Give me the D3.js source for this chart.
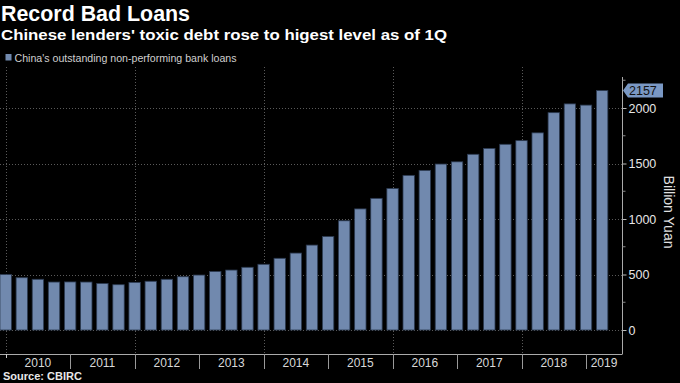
<!DOCTYPE html>
<html>
<head>
<meta charset="utf-8">
<script src="https://cdn.jsdelivr.net/npm/d3@7"></script>
<style>
html,body{margin:0;padding:0;background:#000;}
svg{display:block;}
</style>
</head>
<body>
<svg id="chart" width="680" height="383"></svg>
<script>
// ---- data ----
const quarterEnds = [
  2010.0,
  2010.25, 2010.5, 2010.75, 2011.0,
  2011.25, 2011.5, 2011.75, 2012.0,
  2012.25, 2012.5, 2012.75, 2013.0,
  2013.25, 2013.5, 2013.75, 2014.0,
  2014.25, 2014.5, 2014.75, 2015.0,
  2015.25, 2015.5, 2015.75, 2016.0,
  2016.25, 2016.5, 2016.75, 2017.0,
  2017.25, 2017.5, 2017.75, 2018.0,
  2018.25, 2018.5, 2018.75, 2019.0,
  2019.25
];
const npl = [
  500,
  471, 457, 432, 433,
  432, 419, 408, 429,
  439, 457, 480, 495,
  527, 540, 565, 592,
  646, 693, 765, 842,
  984, 1091, 1186, 1275,
  1393, 1438, 1495, 1515,
  1583, 1636, 1673, 1706,
  1776, 1958, 2037, 2026,
  2157
];
const yearLabels = ["2010","2011","2012","2013","2014","2015","2016","2017","2018","2019"];
const yTicks = [0, 500, 1000, 1500, 2000];
const yMinorTicks = [250, 750, 1250, 1750, 2250];
const gridYears = [2010, 2012, 2014, 2016, 2018];
const lastLabel = "2157";

// ---- layout ----
const svg = d3.select("#chart");
const plotLeft = 0, plotRight = 622, plotTop = 67, plotBottom = 354;

const x = d3.scaleLinear().domain([2009.912, 2019.558]).range([plotLeft, plotRight]);
const y = d3.scaleLinear().domain([0, 2000]).range([330, 108]);
const barW = 11.4;

svg.append("rect").attr("width",680).attr("height",383).attr("fill","#000");

// titles
svg.append("text").attr("x",1).attr("y",21)
  .attr("font-family","Liberation Sans, Arial, sans-serif").attr("font-weight","bold")
  .attr("font-size",22).attr("fill","#fff")
  .attr("textLength",189).attr("lengthAdjust","spacingAndGlyphs")
  .text("Record Bad Loans");
svg.append("text").attr("x",1).attr("y",39.5)
  .attr("font-family","Liberation Sans, Arial, sans-serif").attr("font-weight","bold")
  .attr("font-size",15.5).attr("fill","#fff")
  .attr("textLength",446).attr("lengthAdjust","spacingAndGlyphs")
  .text("Chinese lenders' toxic debt rose to higest level as of 1Q");

// legend
svg.append("rect").attr("x",5.5).attr("y",54).attr("width",6).attr("height",6.5).attr("fill","#7189ae");
svg.append("text").attr("x",14.5).attr("y",61.5)
  .attr("font-family","Liberation Sans, Arial, sans-serif")
  .attr("font-size",11).attr("fill","#cfcfcf")
  .attr("textLength",222).attr("lengthAdjust","spacingAndGlyphs")
  .text("China's outstanding non-performing bank loans");

// grid
const grid = svg.append("g").attr("stroke","#5a5a5a").attr("stroke-width",1).attr("stroke-dasharray","1,2");
grid.selectAll("line.h").data(yTicks).enter().append("line")
  .attr("x1",plotLeft).attr("x2",plotRight)
  .attr("y1",d=>Math.round(y(d))+0.5).attr("y2",d=>Math.round(y(d))+0.5);
grid.selectAll("line.v").data(gridYears).enter().append("line")
  .attr("x1",d=>Math.round(x(d))+0.5).attr("x2",d=>Math.round(x(d))+0.5)
  .attr("y1",plotTop).attr("y2",plotBottom);

// bars
svg.append("g").selectAll("rect").data(npl).enter().append("rect")
  .attr("x",(d,i)=>x(quarterEnds[i]) - barW/2)
  .attr("width",barW)
  .attr("y",d=>y(d))
  .attr("height",d=>y(0)-y(d))
  .attr("fill","#7189ae")
  .attr("stroke","#2c3b52").attr("stroke-width",0.8);

// right axis
const axisG = svg.append("g").attr("transform",`translate(${plotRight+0.5},0)`);
const yAxis = d3.axisRight(y).tickValues(yTicks).tickSize(4).tickPadding(2).tickFormat(d3.format("d"));
axisG.call(yAxis);
axisG.select(".domain").remove();
axisG.append("line").attr("x1",0).attr("x2",0).attr("y1",plotTop+10).attr("y2",plotBottom).attr("stroke","#aaa");
axisG.selectAll(".tick line").attr("stroke","#bbb");
axisG.selectAll(".tick text").attr("fill","#e6e6e6").attr("font-size",12.5)
  .attr("font-family","Liberation Sans, Arial, sans-serif");
axisG.selectAll("line.minor").data(yMinorTicks).enter().append("line")
  .attr("x1",0).attr("x2",3).attr("y1",d=>y(d)).attr("y2",d=>y(d)).attr("stroke","#888");

// axis title
svg.append("text")
  .attr("transform","translate(664,212) rotate(90)")
  .attr("text-anchor","middle")
  .attr("font-family","Liberation Sans, Arial, sans-serif")
  .attr("font-size",14).attr("fill","#e0e0e0")
  .text("Billion Yuan");

// last value label
const lastY = y(npl[npl.length-1]);
const lx = plotRight + 1;
svg.append("path")
  .attr("d",`M${lx},${lastY} L${lx+5},${lastY-7} L${lx+40},${lastY-7} L${lx+40},${lastY+7} L${lx+5},${lastY+7} Z`)
  .attr("fill","#7a98c4");
svg.append("text").attr("x",lx+6).attr("y",lastY+4.5)
  .attr("font-family","Liberation Sans, Arial, sans-serif")
  .attr("font-size",12.5).attr("fill","#111")
  .text(lastLabel);

// bottom x axis: years
const xg = svg.append("g");
xg.append("line").attr("x1",plotLeft).attr("x2",plotRight+0.5)
  .attr("y1",plotBottom+0.5).attr("y2",plotBottom+0.5).attr("stroke","#aaa");
const sepYears = d3.range(2011, 2020);
xg.selectAll("line.sep").data(sepYears).enter().append("line")
  .attr("x1",d=>Math.round(x(d))+0.5).attr("x2",d=>Math.round(x(d))+0.5)
  .attr("y1",plotBottom).attr("y2",369).attr("stroke","#999");
xg.append("line").attr("x1",Math.round(x(2010))+0.5).attr("x2",Math.round(x(2010))+0.5)
  .attr("y1",plotBottom).attr("y2",358).attr("stroke","#ccc");
xg.selectAll("text").data(yearLabels).enter().append("text")
  .attr("x",(d,i)=>{
    const a = x(+d), b = Math.min(x(+d+1), plotRight);
    return (a+b)/2;
  })
  .attr("y",366.5)
  .attr("text-anchor","middle")
  .attr("font-family","Liberation Sans, Arial, sans-serif")
  .attr("font-size",12).attr("fill","#d8d8d8")
  .text(d=>d);

// source
svg.append("text").attr("x",3).attr("y",380)
  .attr("font-family","Liberation Sans, Arial, sans-serif").attr("font-weight","bold")
  .attr("font-size",11).attr("fill","#e8e8e8")
  .text("Source: CBIRC");
</script>
</body>
</html>
